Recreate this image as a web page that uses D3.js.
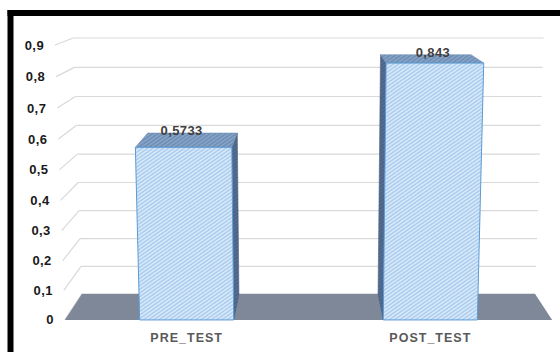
<!DOCTYPE html>
<html><head><meta charset="utf-8">
<script src="https://cdn.jsdelivr.net/npm/d3@7"></script>
<style>html,body{margin:0;padding:0;background:#fff;overflow:hidden;} svg{display:block;}</style>
</head><body>
<svg id="chart" width="560" height="352"></svg>
<script>
const categories = ["PRE_TEST", "POST_TEST"];
const values = [0.5733, 0.843];
const valueLabels = ["0,5733", "0,843"];
const tickValues = [0, 0.1, 0.2, 0.3, 0.4, 0.5, 0.6, 0.7, 0.8, 0.9];
const tickLabels = ["0", "0,1", "0,2", "0,3", "0,4", "0,5", "0,6", "0,7", "0,8", "0,9"];

const svg = d3.select("#chart");

// World box: X across categories, Y up for values, Z depth (0 = back wall, D = front)
const W = 360, H = 202.6, D = 71;
const x = d3.scaleBand().domain(categories).range([-W / 2, W / 2])
  .paddingInner(0.614).paddingOuter(0.307);
const y = d3.scaleLinear().domain([0, 0.9]).range([0, H]);

// Perspective camera, pitched slightly downward
const cam = { f: 1259, pitch: Math.atan(0.181), y: 270.3, z: 967.3, cx: 308.5, cy: 176 };
const sp = Math.sin(cam.pitch), cp = Math.cos(cam.pitch);
function project(X, Y, Z) {
  const ty = Y - cam.y, tz = Z - cam.z;
  const d = -ty * sp - tz * cp;
  const yc = ty * cp - tz * sp;
  return [cam.cx + cam.f * X / d, cam.cy - cam.f * yc / d];
}
const poly = pts => "M" + pts.map(p => project(...p).map(v => v.toFixed(2)).join(",")).join("L") + "Z";
const seg = (a, b) => "M" + project(...a).join(",") + "L" + project(...b).join(",");

// Hatch fills
const defs = svg.append("defs");
function hatch(id, base, stripe, period, width) {
  const p = defs.append("pattern").attr("id", id).attr("patternUnits", "userSpaceOnUse")
    .attr("width", period).attr("height", 10).attr("patternTransform", "rotate(55)");
  p.append("rect").attr("width", period).attr("height", 10).attr("fill", base);
  p.append("rect").attr("width", width).attr("height", 10).attr("fill", stripe);
}
hatch("hFront", "#a8cbee", "#e4f0fb", 3, 1.3);
hatch("hTop", "#6d8db4", "#8eaacb", 3, 1.2);
hatch("hSide", "#4a6283", "#58719a", 3, 1.2);

// Frame: top and left edges of the surrounding box
svg.append("rect").attr("x", 7.5).attr("y", 10).attr("width", 552.5).attr("height", 6).attr("fill", "#000");
svg.append("rect").attr("x", 7.5).attr("y", 10).attr("width", 6).attr("height", 342).attr("fill", "#000");

// Gridlines on back wall and side wall
const grid = svg.append("g").attr("stroke", "#d9d9d9").attr("stroke-width", 1.2).attr("fill", "none");
tickValues.forEach(t => {
  grid.append("path").attr("d", seg([-W / 2, y(t), 0], [W / 2, y(t), 0]));
  grid.append("path").attr("d", seg([-W / 2, y(t), D], [-W / 2, y(t), 0]));
});

// Floor
svg.append("path").attr("d", poly([[-W / 2, 0, 0], [W / 2, 0, 0], [W / 2, 0, D], [-W / 2, 0, D]]))
  .attr("fill", "#7f8898");

// Value axis labels along the front edge of the side wall
const axisG = svg.append("g").attr("font-family", "'Liberation Sans', Arial, sans-serif")
  .attr("font-weight", "bold").attr("font-size", 13).attr("fill", "#1a1a1a")
  .attr("text-anchor", "end").attr("letter-spacing", 0.4);
tickValues.forEach((t, i) => {
  const [px, py] = project(-W / 2, y(t), D);
  axisG.append("text").attr("x", px - 11).attr("y", py).attr("dy", "0.35em").text(tickLabels[i]);
});

// Bars
categories.forEach((c, i) => {
  const x0 = x(c), x1 = x0 + x.bandwidth(), h = y(values[i]);
  const g = svg.append("g");
  if (x1 < 0) {
    g.append("path").attr("d", poly([[x1, 0, 0], [x1, h, 0], [x1, h, D], [x1, 0, D]]))
      .attr("fill", "url(#hSide)").attr("stroke", "#4a6283").attr("stroke-width", 0.6);
  } else if (x0 > 0) {
    g.append("path").attr("d", poly([[x0, 0, 0], [x0, h, 0], [x0, h, D], [x0, 0, D]]))
      .attr("fill", "url(#hSide)").attr("stroke", "#4a6283").attr("stroke-width", 0.6);
  }
  g.append("path").attr("d", poly([[x0, h, 0], [x1, h, 0], [x1, h, D], [x0, h, D]]))
    .attr("fill", "url(#hTop)").attr("stroke", "#6d8db4").attr("stroke-width", 0.6);
  g.append("path").attr("d", poly([[x0, 0, D], [x1, 0, D], [x1, h, D], [x0, h, D]]))
    .attr("fill", "url(#hFront)").attr("stroke", "#5b9bd5").attr("stroke-width", 1);

  const cx = x0 + x.bandwidth() / 2;
  const [lx] = project(cx, h, D);
  const [, ly] = project(cx, h, 0);
  svg.append("text").attr("x", lx - 2).attr("y", ly + 2)
    .attr("text-anchor", "middle").attr("font-family", "'Liberation Sans', Arial, sans-serif")
    .attr("font-weight", "bold").attr("font-size", 13).attr("letter-spacing", 0.4)
    .attr("fill", "#404040").text(valueLabels[i]);

  const [bx, by] = project(cx, 0, D);
  svg.append("text").attr("x", bx).attr("y", by + 22)
    .attr("text-anchor", "middle").attr("font-family", "'Liberation Sans', Arial, sans-serif")
    .attr("font-weight", "bold").attr("font-size", 12.5).attr("letter-spacing", 1)
    .attr("fill", "#595959").text(c);
});
</script>
</body></html>
